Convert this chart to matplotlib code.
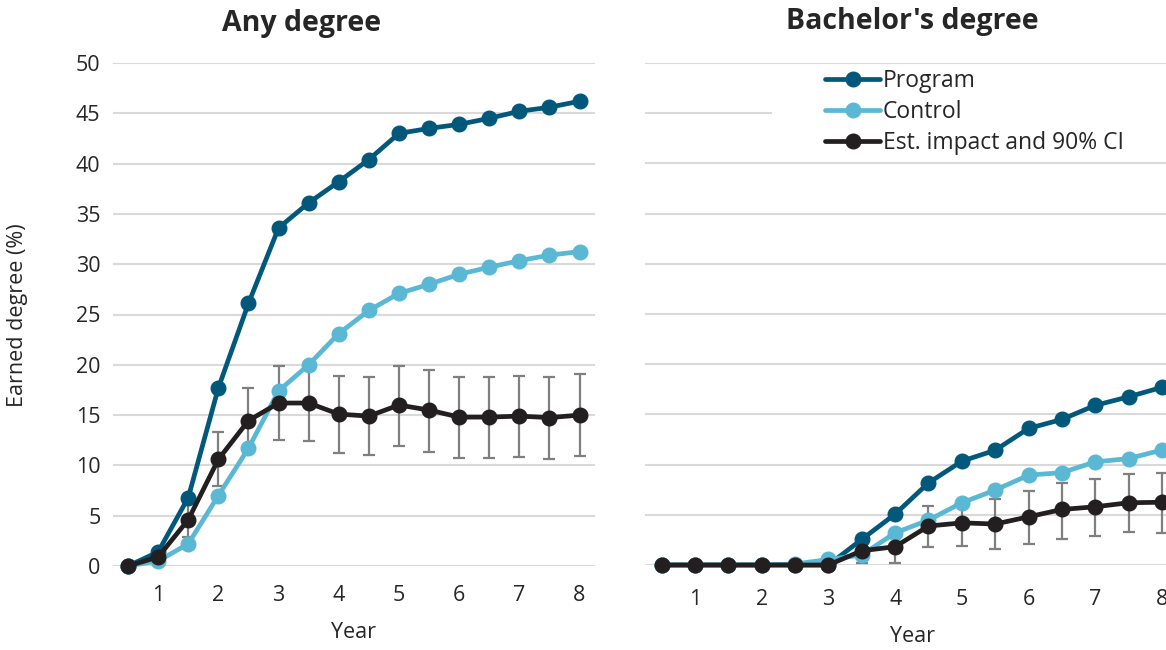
import matplotlib
matplotlib.use("Agg")
import matplotlib.pyplot as plt
from matplotlib.patches import Rectangle
from matplotlib.lines import Line2D
import numpy as np

plt.rcParams['font.family'] = ['Open Sans', 'DejaVu Sans']

# Follow-up points (years since random assignment)
years = [0.5, 1.0, 1.5, 2.0, 2.5, 3.0, 3.5, 4.0, 4.5, 5.0, 5.5, 6.0, 6.5, 7.0, 7.5, 8.0]
year_ticks = [1, 2, 3, 4, 5, 6, 7, 8]
y_ticks = [0, 5, 10, 15, 20, 25, 30, 35, 40, 45, 50]

# Any degree (%)
any_program = [0, 1.4, 6.8, 17.7, 26.1, 33.6, 36.1, 38.2, 40.4, 43.0, 43.5, 43.9, 44.5, 45.2, 45.6, 46.2]
any_control = [0, 0.5, 2.2, 7.0, 11.7, 17.4, 20.0, 23.1, 25.4, 27.1, 28.0, 29.0, 29.7, 30.35, 30.9, 31.25]
any_impact = [0, 0.9, 4.6, 10.6, 14.45, 16.2, 16.2, 15.1, 14.9, 16.0, 15.5, 14.8, 14.8, 14.9, 14.75, 15.0]
any_ci_low = [0, 0.3, 2.9, 7.95, 11.2, 12.5, 12.4, 11.2, 11.0, 11.9, 11.3, 10.7, 10.7, 10.8, 10.6, 10.9]
any_ci_high = [0, 1.5, 6.2, 13.35, 17.7, 19.9, 19.8, 18.9, 18.8, 19.9, 19.45, 18.8, 18.8, 18.9, 18.8, 19.05]

# Bachelor's degree (%)
bach_program = [0, 0, 0, 0, 0, 0.0, 2.55, 5.07, 8.18, 10.34, 11.43, 13.6, 14.5, 15.9, 16.75, 17.7]
bach_control = [0, 0, 0, 0, 0.1, 0.55, 1.0, 3.2, 4.47, 6.2, 7.46, 8.95, 9.2, 10.27, 10.6, 11.45]
bach_impact = [0, 0, 0, 0, 0, 0, 1.42, 1.82, 3.88, 4.2, 4.08, 4.8, 5.53, 5.8, 6.2, 6.25]
bach_ci_low = [0, 0, 0, 0, 0, 0, 0.2, 0.17, 1.76, 1.89, 1.59, 2.05, 2.58, 2.92, 3.28, 3.2]
bach_ci_high = [0, 0, 0, 0, 0, 0, 2.6, 3.47, 5.86, 6.5, 6.6, 7.39, 8.12, 8.6, 9.05, 9.2]

C_PROGRAM = '#02587b'
C_CONTROL = '#5ab8d4'
C_IMPACT = '#231f20'
C_CI = '#7f7f7f'
C_GRID = '#d9d9d9'
C_TEXT = '#262626'

FS = 15.5
LEG_FS = 16.5

W, H = 1166, 650
fig = plt.figure(figsize=(W / 100, H / 100), dpi=100)

ax1 = fig.add_axes([113 / W, (H - 566) / H, 481.6 / W, 503 / H])
ax2 = fig.add_axes([645 / W, (H - 565) / H, 533.6 / W, 502 / H])


def draw_panel(ax, prog, ctrl, imp, lo, hi):
    x = np.asarray(years)
    imp = np.asarray(imp)
    lo = np.asarray(lo)
    hi = np.asarray(hi)
    has_ci = hi > lo
    ax.errorbar(x[has_ci], imp[has_ci],
                yerr=[imp[has_ci] - lo[has_ci], hi[has_ci] - imp[has_ci]],
                fmt='none', ecolor=C_CI, elinewidth=1.6, capsize=4.3,
                capthick=1.6, zorder=2, clip_on=False)
    style = dict(lw=3.4, marker='o', ms=10.5, solid_capstyle='round', clip_on=False)
    ax.plot(x, prog, color=C_PROGRAM, zorder=3, **style)
    ax.plot(x, ctrl, color=C_CONTROL, zorder=4, **style)
    ax.plot(x, imp, color=C_IMPACT, zorder=5, **style)

    ax.set_xlim(0.25, 8.25)
    ax.set_ylim(0, 50)
    ax.set_xticks(year_ticks)
    ax.set_yticks(y_ticks)
    ax.grid(axis='y', color=C_GRID, lw=1.5)
    ax.set_axisbelow(True)
    for s in ax.spines.values():
        s.set_visible(False)
    ax.tick_params(length=0, labelsize=FS, labelcolor=C_TEXT)


draw_panel(ax1, any_program, any_control, any_impact, any_ci_low, any_ci_high)
draw_panel(ax2, bach_program, bach_control, bach_impact, bach_ci_low, bach_ci_high)

ax1.tick_params(axis='x', pad=14)
ax1.tick_params(axis='y', pad=9)
ax2.tick_params(axis='x', pad=17)
ax2.tick_params(axis='y', labelleft=False)

ax1.set_xlabel('Year', fontsize=FS, color=C_TEXT)
ax1.xaxis.set_label_coords(0.5, (566 - 633) / 503)
ax1.xaxis.label.set_va('center')
ax2.set_xlabel('Year', fontsize=FS, color=C_TEXT)
ax2.xaxis.set_label_coords((912 - 645) / 533.6, (565 - 637) / 502)
ax2.xaxis.label.set_va('center')

ax1.set_ylabel('Earned degree (%)', fontsize=FS, color=C_TEXT)
ax1.yaxis.set_label_coords((18 - 113) / 481.6, (566 - 315) / 503)
ax1.yaxis.label.set_va('center')

fig.text(302 / W, 1 - 23 / H, 'Any degree', ha='center', va='center',
         fontsize=20.5, fontweight='bold', color=C_TEXT)
fig.text(912 / W, 1 - 22 / H, "Bachelor's degree", ha='center', va='center',
         fontsize=20.5, fontweight='bold', color=C_TEXT)

# White backing behind the legend entries
ax2.add_patch(Rectangle((772 / W, 1 - 160 / H), (W - 772) / W, 95 / H,
                        transform=fig.transFigure, facecolor='white',
                        edgecolor='none', zorder=6))

handles = [
    Line2D([], [], color=c, lw=3.4, marker='o', ms=10.5, solid_capstyle='round')
    for c in (C_PROGRAM, C_CONTROL, C_IMPACT)
]
labels = ['Program', 'Control', 'Est. impact and 90% CI']
leg = ax2.legend(handles, labels, loc='upper left',
                 bbox_to_anchor=(825 / W, 1 - 69 / H), bbox_transform=fig.transFigure,
                 frameon=False, fontsize=LEG_FS, handlelength=2.4, handletextpad=0.13,
                 labelspacing=0.3, borderpad=0, borderaxespad=0)
leg.set_zorder(7)
for t in leg.get_texts():
    t.set_color(C_TEXT)

fig.savefig('out.png', dpi=100)
